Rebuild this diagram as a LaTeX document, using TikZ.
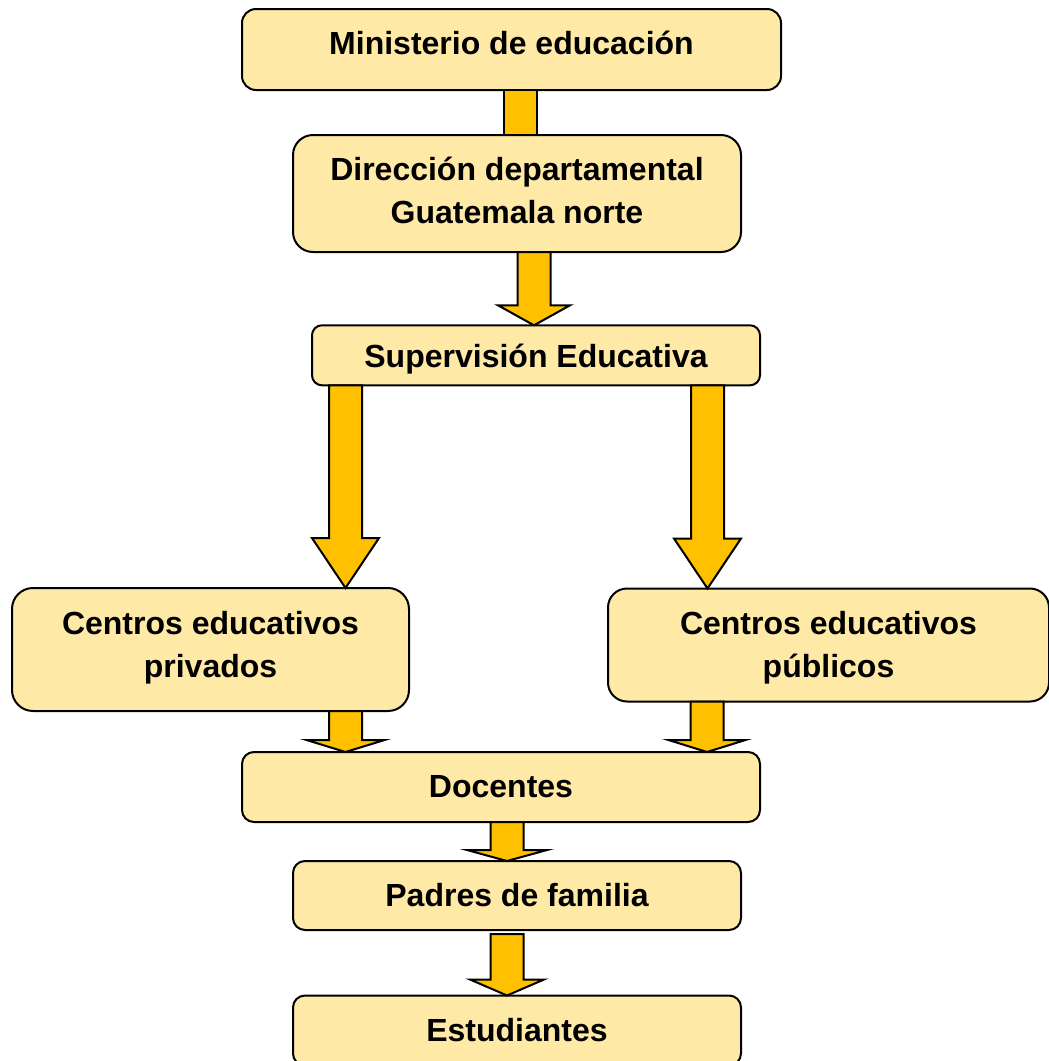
\documentclass[tikz,border=0pt]{standalone}
\usepackage{fontspec}
\setmainfont{Liberation Sans}
\usetikzlibrary{calc}
\definecolor{boxfill}{HTML}{FFE9A6}
\definecolor{arrfill}{HTML}{FFC000}
\tikzset{
  box/.style={draw=black, line width=2pt, fill=boxfill, rectangle, outer sep=0pt, inner sep=0pt,
    align=center, font=\fontsize{32}{43}\selectfont\bfseries},
  arr/.style={draw=black, line width=2pt, fill=arrfill, line join=miter}
}
% visual vertical shift of a line of text, dimensions unchanged
\newcommand\up[2]{\raisebox{#1}[\height][\depth]{#2}}
% #1 from node, #2 to node, #3 x centre, #4 head length, #5 shaft half width, #6 head half width, #7 top gap
\newcommand\blockarrow[7]{%
  \draw[arr] let \p1=(#1.south), \p2=(#2.north) in
    (#3pt-#5pt,\y1-#7pt) -- (#3pt+#5pt,\y1-#7pt) -- (#3pt+#5pt,\y2+#4pt) -- (#3pt+#6pt,\y2+#4pt)
    -- (#3pt,\y2) -- (#3pt-#6pt,\y2+#4pt) -- (#3pt-#5pt,\y2+#4pt) -- cycle;}
\begin{document}
\begin{tikzpicture}[x=1pt,y=-1pt]
\useasboundingbox (0,0) rectangle (1049,1061);
% boxes
\node[box, minimum width=539pt, minimum height=81pt, rounded corners=14pt] (b1) at (511.5,49.5) {\up{7pt}{Ministerio de educación}};
\node[box, minimum width=448pt, minimum height=117pt, rounded corners=20pt] (b2) at (517,193.5) {\up{3pt}{Dirección departamental}\\\up{3pt}{Guatemala norte}};
\node[box, minimum width=448pt, minimum height=60pt, rounded corners=10pt] (b3) at (536,355.3) {\up{-4pt}{Supervisión Educativa}};
\node[box, minimum width=397pt, minimum height=123pt, rounded corners=21pt] (b4) at (210.5,649.5) {\up{2pt}{Centros educativos}\\\up{2pt}{privados}};
\node[box, minimum width=441pt, minimum height=113pt, rounded corners=19pt] (b5) at (828.5,645) {\up{-3pt}{Centros educativos}\\\up{-3pt}{públicos}};
\node[box, minimum width=518pt, minimum height=70pt, rounded corners=12pt] (b6) at (501,787) {Docentes};
\node[box, minimum width=448pt, minimum height=69pt, rounded corners=12pt] (b7) at (517,895.5) {Padres de familia};
\node[box, minimum width=448pt, minimum height=70pt, rounded corners=12pt] (b8) at (517,1030.5) {Estudiantes};
% block arrows between boxes
\draw[arr] let \p1=(b1.south), \p2=(b2.north) in (503.5pt,\y1) rectangle (536.5pt,\y2);
\blockarrow{b2}{b3}{534}{20}{16.5}{36}{0}
\blockarrow{b3}{b4}{345.5}{50}{16.5}{33.5}{0}
\blockarrow{b3}{b5}{707.5}{50}{16.5}{33.5}{0}
\blockarrow{b4}{b6}{345.5}{12}{16.5}{39}{0}
\blockarrow{b5}{b6}{707}{12}{16.5}{38.5}{0}
\blockarrow{b6}{b7}{507}{11}{16.5}{40}{0}
\blockarrow{b7}{b8}{507}{16}{16.5}{37}{4}
\end{tikzpicture}
\end{document}
